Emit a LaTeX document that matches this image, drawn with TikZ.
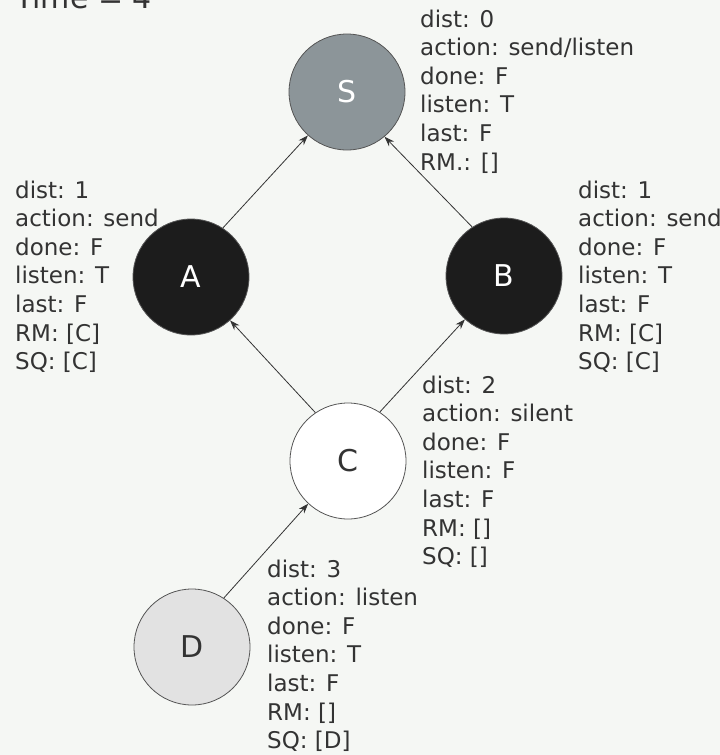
\documentclass[tikz,border=0pt]{standalone}
\usepackage{fontspec}
\setmainfont{DejaVu Sans}
\usetikzlibrary{arrows.meta}
\definecolor{bgc}{HTML}{F5F7F4}
\definecolor{txt}{HTML}{333333}
\definecolor{sgray}{HTML}{8C9599}
\definecolor{dark}{HTML}{1C1C1C}
\definecolor{dgray}{HTML}{E2E2E2}
\definecolor{edgec}{HTML}{555555}
\begin{document}
\begin{tikzpicture}[x=1pt,y=-1pt,
  state/.style={circle,draw=edgec,line width=0.8pt,minimum size=116pt,inner sep=0pt,font=\fontsize{30}{30}\selectfont},
  info/.style={anchor=base west,align=left,inner sep=0pt,text=txt,font=\fontsize{23}{28.6}\selectfont},
  link/.style={draw=txt,line width=0.8pt,-{Stealth[length=10pt,width=7pt]}}]
\fill[bgc] (0,0) rectangle (720,755);
\useasboundingbox (0,0) rectangle (720,755);
\node[anchor=base west,inner sep=0pt,text=txt,font=\fontsize{30}{30}\selectfont] (title) at (15,8) {Time = 4};
\node[state,fill=sgray,text=white] (S) at (347,92) {S};
\node[state,fill=dark,text=white] (A) at (191,277) {A};
\node[state,fill=dark,text=white] (B) at (504,276) {B};
\node[state,fill=white,text=txt] (C) at (348,461) {C};
\node[state,fill=dgray,text=txt] (D) at (192,647) {D};
\node[info] (Si) at (420,170) {dist: 0\\action: send/listen\\done: F\\listen: T\\last: F\\RM.: []};
\node[info] (Ai) at (15,369.6) {dist: 1\\action: send\\done: F\\listen: T\\last: F\\RM: [C]\\SQ: [C]};
\node[info] (Bi) at (578,369.6) {dist: 1\\action: send\\done: F\\listen: T\\last: F\\RM: [C]\\SQ: [C]};
\node[info] (Ci) at (422,564.6) {dist: 2\\action: silent\\done: F\\listen: F\\last: F\\RM: []\\SQ: []};
\node[info] (Di) at (267,748.6) {dist: 3\\action: listen\\done: F\\listen: T\\last: F\\RM: []\\SQ: [D]};
\draw[link] (A.57) -- (S.228);
\draw[link] (B.123) -- (S.310);
\draw[link] (C.124) -- (A.312);
\draw[link] (C.57) -- (B.228);
\draw[link] (D.57) -- (C.227);
\end{tikzpicture}
\end{document}
